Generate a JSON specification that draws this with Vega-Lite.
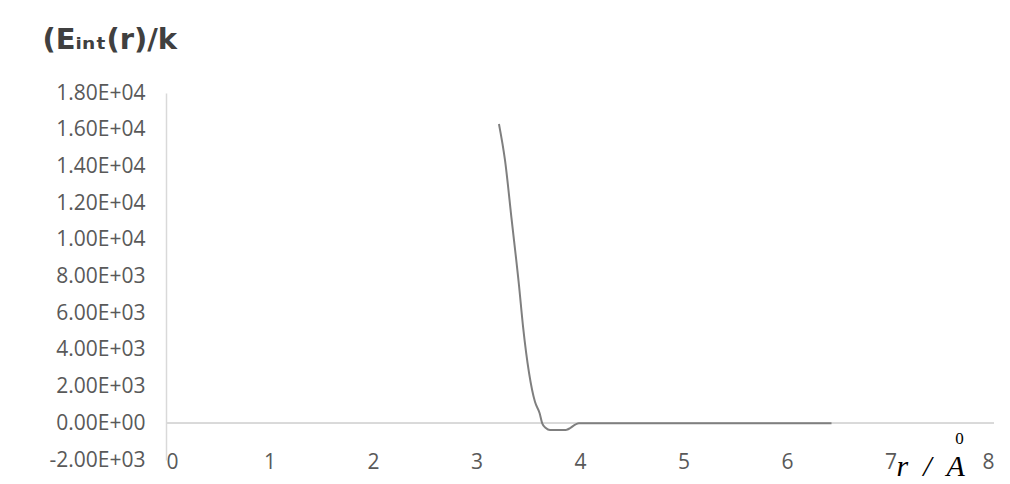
{
  "$schema": "https://vega.github.io/schema/vega-lite/v6.json",
  "width": 828,
  "height": 367,
  "autosize": "none",
  "padding": {"left": 166, "top": 93, "right": 16, "bottom": 24},
  "background": "white",
  "config": {
    "view": {"stroke": null},
    "axis": {"grid": false, "ticks": false, "tickSize": 0, "labelOverlap": false}
  },
  "data": {
    "values": [
      {"r": 3.217, "E": 16310},
      {"r": 3.275, "E": 14350},
      {"r": 3.34, "E": 11080},
      {"r": 3.41, "E": 7550},
      {"r": 3.45, "E": 5260},
      {"r": 3.565, "E": 1170},
      {"r": 3.61, "E": 550},
      {"r": 3.635, "E": 0},
      {"r": 3.67, "E": -260},
      {"r": 3.71, "E": -365},
      {"r": 3.86, "E": -365},
      {"r": 3.99, "E": 0},
      {"r": 6.43, "E": 0}
    ]
  },
  "layer": [
    {
      "mark": {"type": "rule", "color": "#d9d9d9", "strokeWidth": 1.5},
      "encoding": {
        "x": {
          "datum": 0,
          "type": "quantitative",
          "scale": {"domain": [0, 8], "nice": false},
          "axis": {
            "orient": "bottom",
            "title": "0",
            "labels": false,
            "domain": false,
            "titleX": 793,
            "titleY": -17,
            "titleAlign": "center",
            "titleBaseline": "alphabetic",
            "titleFont": "Liberation Serif",
            "titleFontSize": 17,
            "titleFontWeight": "normal",
            "titleColor": "#000000"
          }
        },
        "x2": {"datum": 8},
        "y": {"datum": 0, "type": "quantitative", "axis": {"labelOverlap": false, "values": [-2000, 0, 2000, 4000, 6000, 8000, 10000, 12000, 14000, 16000, 18000]}}
      }
    },
    {
      "mark": {"type": "line", "color": "#7f7f7f", "strokeWidth": 2, "interpolate": "monotone"},
      "encoding": {
        "x": {
          "field": "r",
          "type": "quantitative",
          "scale": {"domain": [0, 8], "nice": false},
          "axis": {
            "orient": "bottom",
            "values": [0, 1, 2, 3, 4, 5, 6, 7, 8],
            "domain": false,
            "labelFont": "Open Sans",
            "labelFontSize": 21,
            "labelColor": "#595959",
            "labelBaseline": "middle",
            "labelPadding": 2,
            "title": "r\u00a0\u00a0/\u00a0\u00a0A",
            "titleX": 730,
            "titleY": 15,
            "titleAlign": "left",
            "titleBaseline": "alphabetic",
            "titleFont": "Liberation Serif",
            "titleFontSize": 30,
            "titleFontStyle": "italic",
            "titleFontWeight": "normal",
            "titleColor": "#000000"
          }
        },
        "y": {
          "field": "E",
          "type": "quantitative",
          "scale": {"domain": [-2000, 18000], "nice": false},
          "axis": {
            "values": [-2000, 0, 2000, 4000, 6000, 8000, 10000, 12000, 14000, 16000, 18000],
            "labelOverlap": false,
            "labelExpr": "replace(replace(format(datum.value, '.2e'), 'e+', 'E+0'), '\u2212', '-')",
            "domainColor": "#d9d9d9",
            "domainWidth": 1.5,
            "labelFont": "Open Sans",
            "labelFontSize": 21,
            "labelColor": "#595959",
            "labelPadding": 21,
            "title": "(Eᵢₙₜ(r)/k",
            "titleX": -124,
            "titleY": -45,
            "titleAngle": 0,
            "titleAlign": "left",
            "titleBaseline": "alphabetic",
            "titleFont": "DejaVu Sans",
            "titleFontSize": 29,
            "titleFontWeight": "bold",
            "titleColor": "#404040"
          }
        }
      }
    }
  ],
  "resolve": {"axis": {"x": "independent"}}
}
